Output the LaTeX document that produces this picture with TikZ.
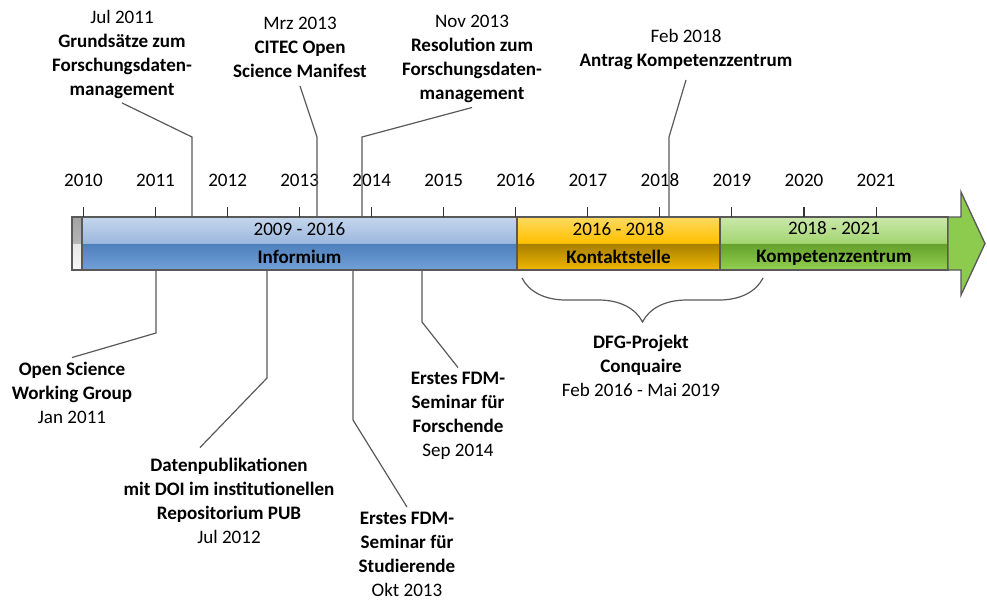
\documentclass[tikz,border=0pt]{standalone}
\usepackage{fontspec}
\setmainfont{Carlito}
\usepackage{tikz}
\usetikzlibrary{positioning, decorations.pathreplacing}
\definecolor{lineGrey}{HTML}{595959}
\definecolor{blueTop}{HTML}{C4D6EC}
\definecolor{blueMid}{HTML}{9DB8DE}
\definecolor{blueLow}{HTML}{4C7FBC}
\definecolor{blueBot}{HTML}{73A0D8}
\definecolor{orangeTop}{HTML}{FFDA5F}
\definecolor{orangeMid}{HTML}{FFC000}
\definecolor{orangeLow}{HTML}{A67E00}
\definecolor{orangeBot}{HTML}{F2B700}
\definecolor{greenTop}{HTML}{CBE8AA}
\definecolor{greenMid}{HTML}{A3D572}
\definecolor{greenLow}{HTML}{64A02B}
\definecolor{greenBot}{HTML}{92D050}
\definecolor{arrowGreen}{HTML}{8DCB4F}
\definecolor{greyTop}{HTML}{A3A3A3}
\definecolor{greyMid}{HTML}{B5B5B5}
\definecolor{greyLow}{HTML}{E6E6E6}
\definecolor{greyBot}{HTML}{F7F7F7}
\pgfdeclareverticalshading{infoShade}{100bp}{color(0bp)=(blueBot); color(25bp)=(blueBot); color(50bp)=(blueLow); color(50.5bp)=(blueMid); color(75bp)=(blueTop); color(100bp)=(blueTop)}
\pgfdeclareverticalshading{kontaktShade}{100bp}{color(0bp)=(orangeBot); color(25bp)=(orangeBot); color(50bp)=(orangeLow); color(50.5bp)=(orangeMid); color(75bp)=(orangeTop); color(100bp)=(orangeTop)}
\pgfdeclareverticalshading{kompetenzShade}{100bp}{color(0bp)=(greenBot); color(25bp)=(greenBot); color(50bp)=(greenLow); color(50.5bp)=(greenMid); color(75bp)=(greenTop); color(100bp)=(greenTop)}
\pgfdeclareverticalshading{capShade}{100bp}{color(0bp)=(greyBot); color(25bp)=(greyBot); color(50bp)=(greyLow); color(50.5bp)=(greyMid); color(75bp)=(greyTop); color(100bp)=(greyTop)}

\begin{document}
\begin{tikzpicture}[x=0.75pt, y=-0.75pt, font=\fontsize{14.3}{18}\selectfont, every node/.style={align=center},
  segment/.style={draw=lineGrey, line width=1pt, outer sep=0pt, inner sep=0pt, minimum height=39.75pt},
  callout/.style={draw=lineGrey, line width=0.9pt},
  tick/.style={draw=black!80, line width=0.8pt}]
  \useasboundingbox (0,0) rectangle (987,601);
  % bar
  \node[segment, shading=infoShade, minimum width=326.25pt] (informium) at (299.5,243.5) {2009 - 2016\\[3pt]\textbf{Informium}};
  \node[segment, shading=capShade, minimum width=7.5pt, left=0pt of informium] (cap) {};
  \node[segment, shading=kontaktShade, minimum width=152.25pt, right=0pt of informium] (kontakt) {2016 - 2018\\[3pt]\textbf{Kontaktstelle}};
  \node[segment, shading=kompetenzShade, minimum width=171pt, right=0pt of kontakt] (kompetenz) {2018 - 2021\\[3pt]\textbf{Kompetenzzentrum}};
  \draw[draw=lineGrey, fill=arrowGreen, line width=1pt, line join=miter] (kompetenz.north east) -- (961,217) -- (961,192) -- (985,243.5) -- (961,295) -- (961,270) -- (kompetenz.south east) -- cycle;
  % years
  \foreach \yr [count=\i from 0] in {2010,...,2021} {
    \node (y\yr) at (83.5+72.05*\i,180) {\yr};
    \draw[tick] (83.5+72.05*\i,207) -- (83.5+72.05*\i,217);
  }
  % events above
  \node (jul11) at (122,54) {Jul 2011\\\textbf{Grundsätze zum}\\\textbf{Forschungsdaten-}\\\textbf{management}};
  \node (mrz13) at (300,47) {Mrz 2013\\\textbf{CITEC Open}\\\textbf{Science Manifest}};
  \node (nov13) at (472,59) {Nov 2013\\\textbf{Resolution zum}\\\textbf{Forschungsdaten-}\\\textbf{management}};
  \node (feb18) at (686,49) {Feb 2018\\\textbf{Antrag Kompetenzzentrum}};
  \coordinate (jul11bend) at (192,137);
  \coordinate (mrz13bend) at (317,137);
  \coordinate (nov13bend) at (362,137);
  \coordinate (feb18bend) at (669,137);
  \draw[callout] (jul11bend |- informium.north) -- (jul11bend) -- (jul11.south);
  \draw[callout] (mrz13bend |- informium.north) -- (mrz13bend) -- ([shift={(0,4)}]mrz13.south);
  \draw[callout] (nov13bend |- informium.north) -- (nov13bend) -- (nov13.south);
  \draw[callout] (feb18bend |- kontakt.north) -- (feb18bend) -- ([shift={(0,6)}]feb18.south);
  % events below
  \node (jan11) at (72,393) {\textbf{Open Science}\\\textbf{Working Group}\\Jan 2011};
  \node (jul12) at (229,501) {\textbf{Datenpublikationen}\\\textbf{mit DOI im institutionellen}\\\textbf{Repositorium PUB}\\Jul 2012};
  \node (okt13) at (407,554) {\textbf{Erstes FDM-}\\\textbf{Seminar für}\\\textbf{Studierende}\\Okt 2013};
  \node (sep14) at (458,416) {\textbf{Erstes FDM-}\\\textbf{Seminar für}\\\textbf{Forschende}\\Sep 2014};
  \coordinate (jan11bend) at (156,333);
  \coordinate (jul12bend) at (267,378);
  \coordinate (okt13bend) at (353,420);
  \coordinate (sep14bend) at (422,322);
  \draw[callout] (jan11bend |- informium.south) -- (jan11bend) -- (jan11.north);
  \draw[callout] (jul12bend |- informium.south) -- (jul12bend) -- ([shift={(-29,-6)}]jul12.north);
  \draw[callout] (okt13bend |- informium.south) -- (okt13bend) -- (okt13.north);
  \draw[callout] (sep14bend |- informium.south) -- (sep14bend) -- (sep14.north);
  % project
  \coordinate (braceL) at (522,278);
  \coordinate (braceR) at (763,278);
  \draw[callout, decorate, decoration={brace, mirror, amplitude=33pt}] (braceL) -- (braceR);
  \node (dfg) at (641,366) {\textbf{DFG-Projekt}\\\textbf{Conquaire}\\Feb 2016 - Mai 2019};
\end{tikzpicture}
\end{document}
